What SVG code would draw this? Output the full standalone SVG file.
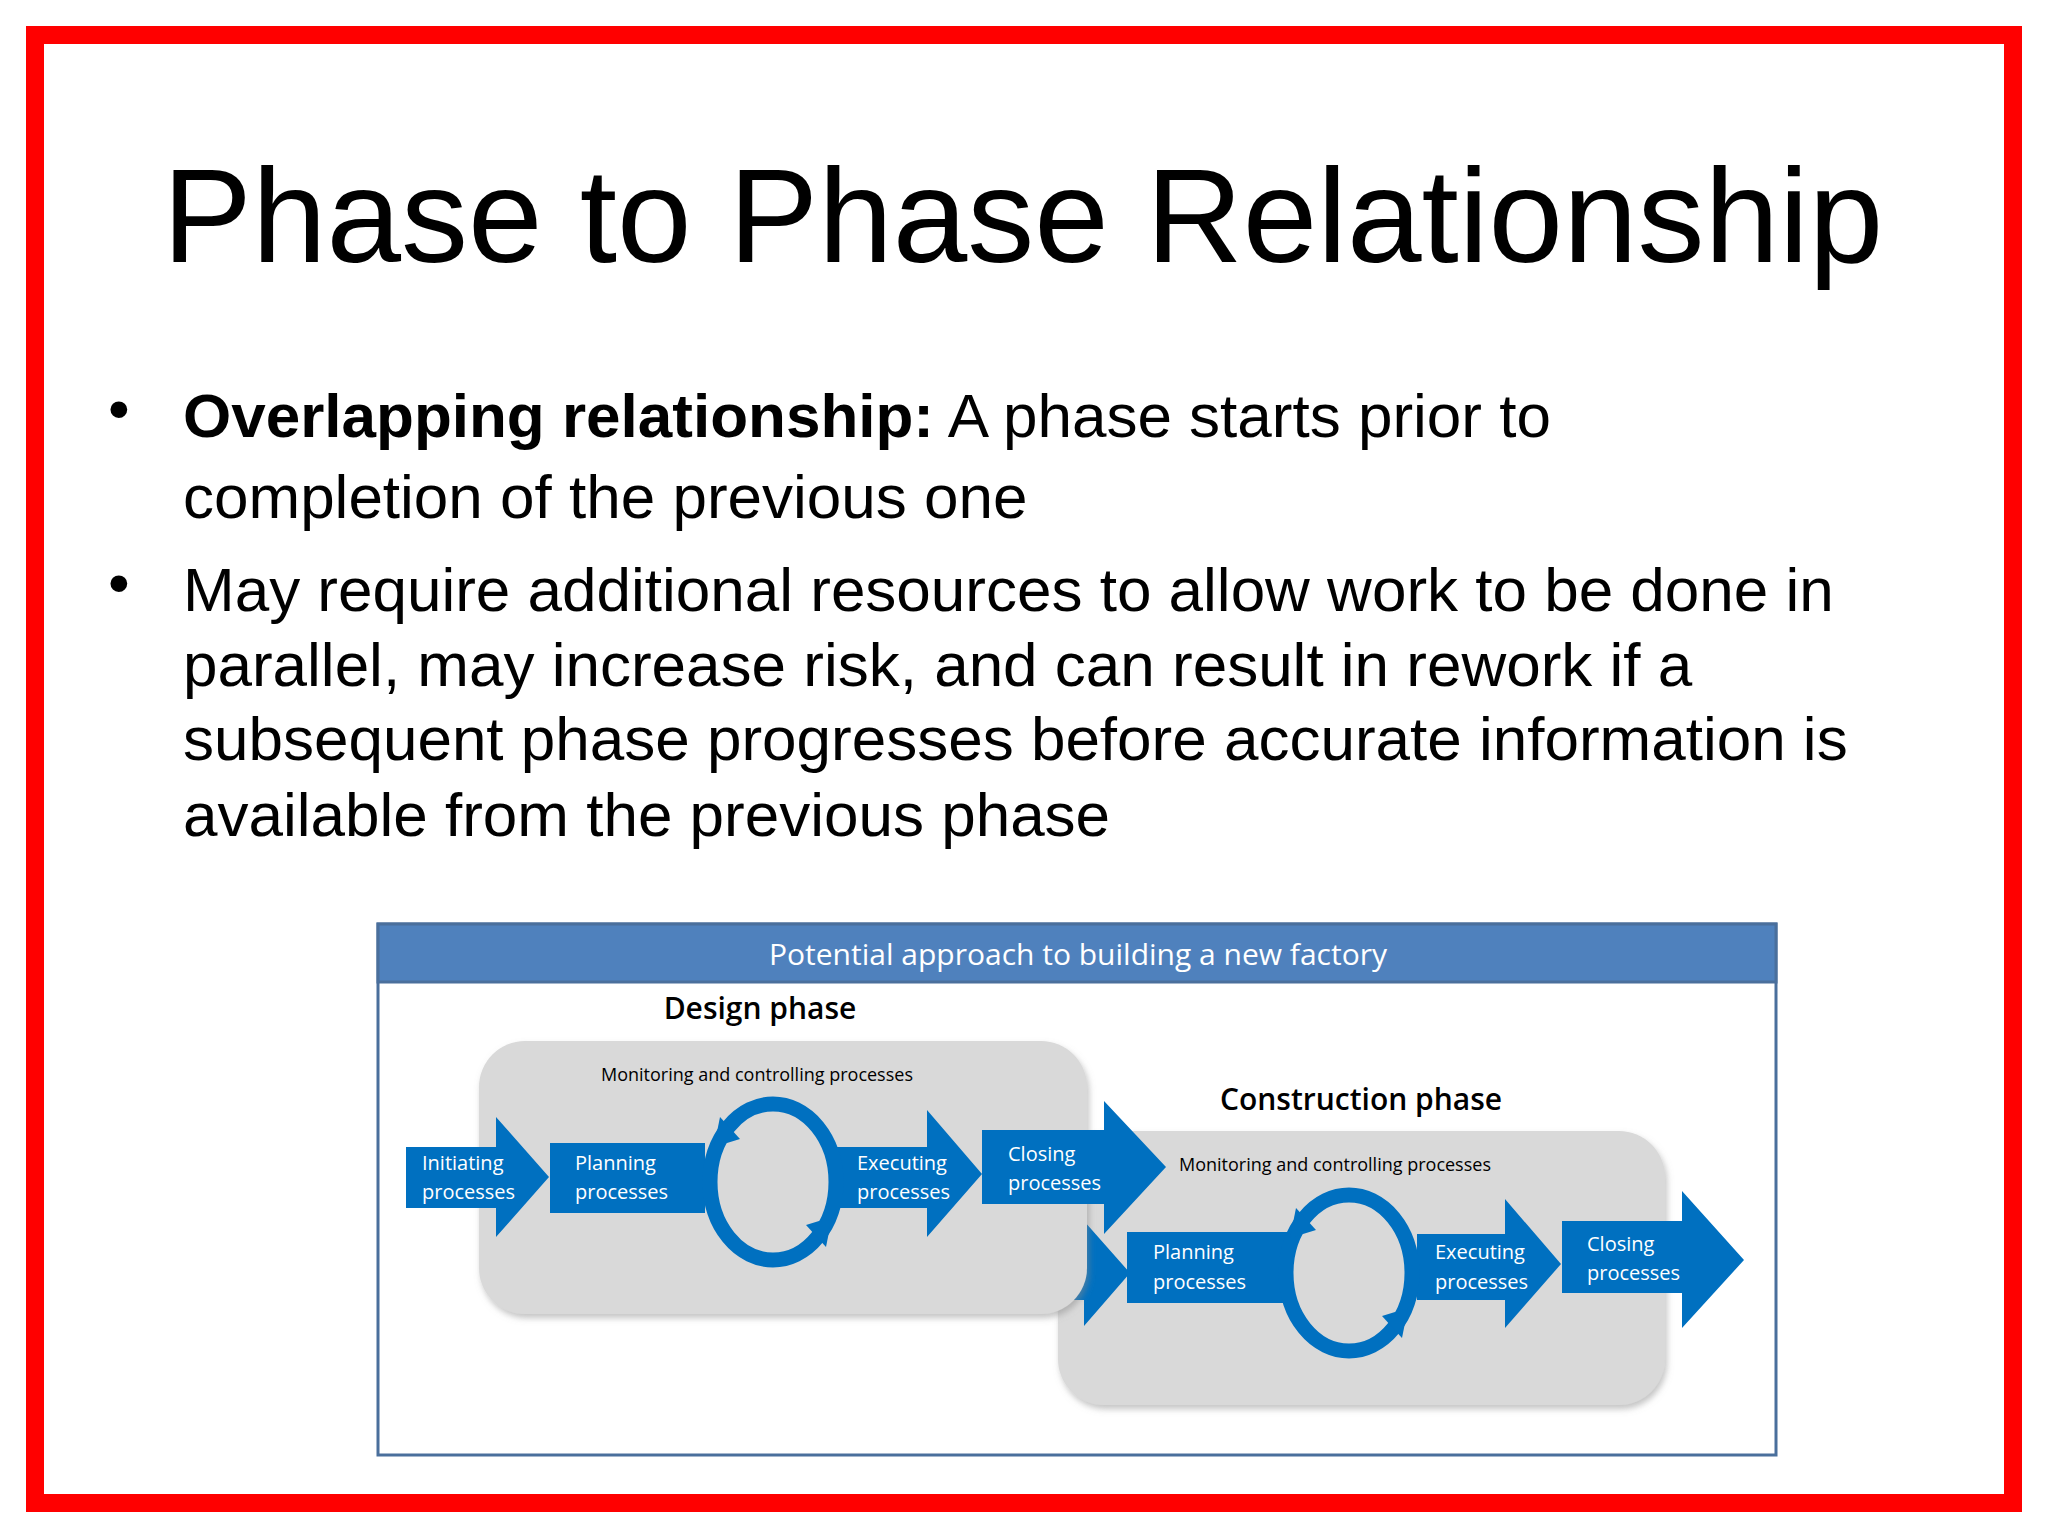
<svg xmlns="http://www.w3.org/2000/svg" width="2048" height="1536" viewBox="0 0 2048 1536">
<defs>
<style>
.a{font-family:"Liberation Sans",Arial,sans-serif;fill:#000}
.c{font-family:"Open Sans","Noto Sans",sans-serif}
.w{fill:#fff;font-size:20px}
.blue{fill:#0070c0}
.box{fill:#d9d9d9;filter:url(#sh)}
.cir{fill:none;stroke:#0070c0;stroke-width:15}
</style>
<filter id="sh" x="-5%" y="-5%" width="115%" height="115%"><feDropShadow dx="2" dy="4" stdDeviation="3" flood-color="#888" flood-opacity="0.5"/></filter>
</defs>
<rect width="2048" height="1536" fill="#fff"/>
<rect x="35" y="35" width="1978" height="1468" fill="none" stroke="#ff0000" stroke-width="18"/>
<text class="a" x="1023" y="262" font-size="134" text-anchor="middle">Phase to Phase Relationship</text>
<g class="a" font-size="62">
<text x="108" y="430">•</text>
<text x="183" y="437"><tspan font-weight="bold">Overlapping relationship:</tspan> A phase starts prior to</text>
<text x="183" y="518">completion of the previous one</text>
<text x="108" y="604">•</text>
<text x="183" y="611">May require additional resources to allow work to be done in</text>
<text x="183" y="686">parallel, may increase risk, and can result in rework if a</text>
<text x="183" y="760">subsequent phase progresses before accurate information is</text>
<text x="183" y="836">available from the previous phase</text>
</g>
<g id="frame">
<rect x="378" y="924" width="1398" height="531" fill="#fff" stroke="#4a6f9c" stroke-width="3"/>
<rect x="378" y="924" width="1398" height="58" fill="#4f81bd" stroke="#4a6f9c" stroke-width="3"/>
<text class="c" x="1078" y="965" font-size="30" fill="#fff" text-anchor="middle">Potential approach to building a new factory</text>
</g>
<g id="construction">
<rect class="box" x="1058" y="1131" width="607" height="274" rx="46"/>
<text class="c" x="1361" y="1110" font-size="30" font-weight="600" text-anchor="middle">Construction phase</text>
<text class="c" x="1335" y="1171" font-size="18" text-anchor="middle">Monitoring and controlling processes</text>
<polygon class="blue" points="1000,1247 1084,1247 1084,1221 1130,1273 1084,1326 1084,1300 1000,1300"/>
<rect class="blue" x="1127" y="1232" width="166" height="71"/>
<polygon class="blue" points="1417,1234 1505,1234 1505,1199 1561,1264 1505,1328 1505,1300 1417,1300"/>
<polygon class="blue" points="1562,1221 1682,1221 1682,1191 1744,1260 1682,1328 1682,1293 1562,1293"/>
<ellipse class="cir" cx="1349" cy="1273" rx="63" ry="78"/>
<polygon class="blue" points="1296,1208 1316,1230 1290,1238"/>
<polygon class="blue" points="1402,1338 1382,1316 1408,1308"/>
<g class="c w">
<text x="1153" y="1259">Planning</text><text x="1153" y="1289">processes</text>
<text x="1435" y="1259">Executing</text><text x="1435" y="1289">processes</text>
<text x="1587" y="1251">Closing</text><text x="1587" y="1280">processes</text>
</g>
</g>
<g id="design">
<text class="c" x="760" y="1019" font-size="30" font-weight="600" text-anchor="middle">Design phase</text>
<rect class="box" x="479" y="1041" width="608" height="273" rx="46"/>
<text class="c" x="757" y="1081" font-size="18" text-anchor="middle">Monitoring and controlling processes</text>
<polygon class="blue" points="406,1147 496,1147 496,1117 549,1177 496,1237 496,1208 406,1208"/>
<rect class="blue" x="550" y="1143" width="155" height="70"/>
<polygon class="blue" points="836,1147 927,1147 927,1110 982,1174 927,1237 927,1208 836,1208"/>
<polygon class="blue" points="982,1130 1104,1130 1104,1101 1166,1167 1104,1234 1104,1204 982,1204"/>
<ellipse class="cir" cx="773" cy="1182" rx="63" ry="78"/>
<polygon class="blue" points="720,1117 740,1139 714,1147"/>
<polygon class="blue" points="826,1247 806,1225 832,1217"/>
<g class="c w">
<text x="422" y="1170">Initiating</text><text x="422" y="1199">processes</text>
<text x="575" y="1170">Planning</text><text x="575" y="1199">processes</text>
<text x="857" y="1170">Executing</text><text x="857" y="1199">processes</text>
<text x="1008" y="1161">Closing</text><text x="1008" y="1190">processes</text>
</g>
</g>
</svg>
